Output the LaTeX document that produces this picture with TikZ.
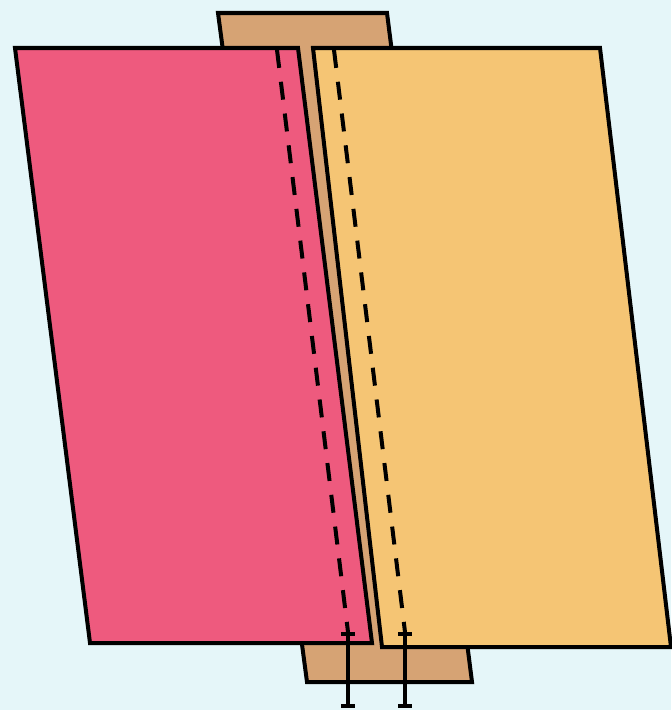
\documentclass[tikz,border=0pt]{standalone}
\usepackage{xcolor}
\usepackage{tikz}
\usetikzlibrary{arrows.meta, calc}
\definecolor{skybg}{HTML}{E5F6F9}
\definecolor{leafpink}{HTML}{EE5A7E}
\definecolor{leaforange}{HTML}{F5C574}
\definecolor{spinetan}{HTML}{D6A374}

\begin{document}
\begin{tikzpicture}[
  x=0.025cm, y=-0.025cm,
  outline/.style={draw=black, line width=0.1cm, line join=miter},
  fold/.style={draw=black, line width=0.1cm, dash pattern=on 0.45cm off 0.35cm},
  gauge/.style={{Bar[width=3.4mm, line width=0.1cm]}-{Bar[width=3.4mm, line width=0.1cm]}, draw=black, line width=0.1cm}
]
\useasboundingbox (0,0) rectangle (671,710);
\fill[skybg] (0,0) rectangle (671,710);

% back strip
\filldraw[outline, fill=spinetan] (218,13) -- (387,13) -- (472,682) -- (307,682) -- cycle;

% left and right sheets
\filldraw[outline, fill=leafpink] (15,48) -- (298,48) -- (372,643) -- (90,643) -- cycle;
\filldraw[outline, fill=leaforange] (313,48) -- (600,48) -- (671,647) -- (382,647) -- cycle;

% fold lines
\coordinate (lftop) at (277,50);
\coordinate (lfbot) at (348,632);
\coordinate (rftop) at (334,50);
\coordinate (rfbot) at (405,632);
\coordinate (lgend) at (348,708);
\coordinate (rgend) at (405,708);
\draw[fold] (lftop) -- (lfbot);
\draw[fold] (rftop) -- (rfbot);

\draw[gauge] (lfbot) -- (lgend);
\draw[gauge] (rfbot) -- (rgend);
\end{tikzpicture}
\end{document}
